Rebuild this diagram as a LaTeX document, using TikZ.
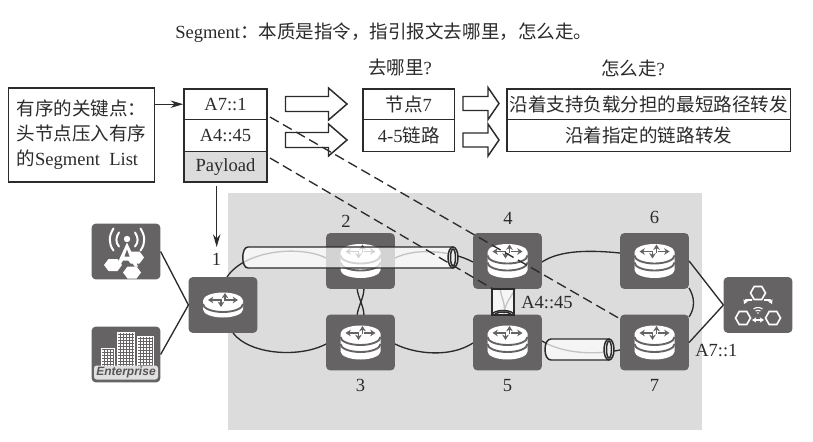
\documentclass[tikz,border=0pt]{standalone}
\usepackage{fontspec}
\setmainfont{Liberation Serif}
\newfontfamily\cjk{Noto Sans CJK SC}
\newfontfamily\brandfont{Liberation Sans}
\usetikzlibrary{arrows.meta,calc}
\newcommand{\widecolon}{\char"FF1A\relax}
\newcommand{\widecomma}{\char"FF0C\relax}
\definecolor{tile}{HTML}{666365}
\definecolor{ink}{HTML}{2B2B2B}
\definecolor{zone}{HTML}{DCDCDC}
\tikzset{
  label text/.style={font=\fontsize{13.9}{16}\selectfont,text=ink,inner sep=0pt},
  cell/.style={draw=ink,line width=1.1pt,inner sep=0pt,font=\fontsize{13.9}{16}\selectfont,text=ink},
  tile box/.style={fill=tile,rounded corners=3pt,minimum width=51.5pt,minimum height=41.8pt,inner sep=0pt},
  link/.style={draw=ink,line width=1pt},
  solid arrow/.style={draw=ink,line width=1pt,-{Stealth[length=9.5pt,width=5.5pt]}},
  marker path/.style={draw=ink,line width=1pt,dash pattern=on 7.5pt off 3.8pt},
  tube/.style={draw=ink,line width=1.1pt,fill=white,fill opacity=0.72},
  icon arrow/.style={draw=tile,line width=1.4pt,-{Stealth[length=4pt,width=5pt]}},
  hex line/.style={draw=white,line width=1.2pt,fill=none},
  pics/arrowset/.style={code={
    \draw[icon arrow] (-3,0) -- (-15,0);
    \draw[icon arrow] (3,0) -- (15,0);
    \draw[icon arrow] (2,1) -- (2,-7);
    \draw[icon arrow] (-2,-1) -- (-2,7);
  }},
  pics/stackrouter/.style={code={
    \fill[white] (-20,-9) arc[start angle=180,end angle=360,x radius=20,y radius=8]
      -- (20,9) arc[start angle=0,end angle=180,x radius=20,y radius=8] -- cycle;
    \draw[tile,line width=1.4pt] (-20,-5.5) arc[start angle=180,end angle=0,x radius=20,y radius=8];
    \draw[tile,line width=1.4pt] (-20,1.5) arc[start angle=180,end angle=0,x radius=20,y radius=8];
    \pic at (0,-9.5) {arrowset};
  }},
  pics/flatrouter/.style={code={
    \fill[white] (-20,-4.5) arc[start angle=180,end angle=360,x radius=20,y radius=8]
      -- (20,4.5) arc[start angle=0,end angle=180,x radius=20,y radius=8] -- cycle;
    \draw[tile,line width=1.4pt] (-20,-1) arc[start angle=180,end angle=0,x radius=20,y radius=8];
    \pic at (0,-5) {arrowset};
  }},
  pics/hexa/.style={code={
    \draw[hex line] (-7.5,0) -- (-3.8,-6.5) -- (3.8,-6.5) -- (7.5,0) -- (3.8,6.5) -- (-3.8,6.5) -- cycle;
  }},
  pics/hexsolid/.style={code={
    \fill[white] (-9,0) -- (-4.5,-6) -- (4.5,-6) -- (9,0) -- (4.5,6) -- (-4.5,6) -- cycle;
  }},
  pics/blockarrow/.style n args={3}{code={
    \draw[draw=ink,line width=1.1pt,fill=white,line join=miter]
      (0,-#3) -- (#2,-#3) -- (#2,-16) -- (#1,0) -- (#2,16) -- (#2,#3) -- (0,#3) -- cycle;
  }},
}
\begin{document}
\begin{tikzpicture}[x=0.75pt,y=-0.75pt]
\useasboundingbox (0,0) rectangle (813,442);
\fill[white] (0,0) rectangle (813,442);

% shaded network domain
\fill[zone] (228,193) rectangle (702,430);

% heading line and column captions
\node[label text,anchor=west] (title) at (175,33) {Segment{\cjk \widecolon 本质是指令\widecomma 指引报文去哪里\widecomma 怎么走。}};
\node[label text] (capwhere) at (400,67) {{\cjk 去哪里}?};
\node[label text] (caphow) at (633,68) {{\cjk 怎么走}?};

% ordered key points box
\node[cell,minimum width=109.5pt,minimum height=70.5pt,align=left,
      font=\fontsize{13.9}{18.7}\selectfont] (intro) at (81.5,135)
  {{\cjk 有序的关键点\widecolon}\\{\cjk 头节点压入有序}\\{\cjk 的}Segment\ \ List};

% segment list stack
\node[cell,minimum width=62.25pt,minimum height=22.9pt] (sa) at (225.5,104.2) {A7::1};
\node[cell,minimum width=62.25pt,minimum height=24pt] (sb) at (225.5,135.5) {A4::45};
\node[cell,fill=zone,minimum width=62.25pt,minimum height=22.9pt] (sc) at (225.5,166.7) {Payload};

% destination column
\node[cell,minimum width=68.6pt,minimum height=22.9pt] (wa) at (408.7,104.2) {{\cjk 节点}7};
\node[cell,minimum width=68.6pt,minimum height=24pt] (wb) at (408.7,135.5) {4-5{\cjk 链路}};

% forwarding behaviour column
\node[cell,minimum width=212.6pt,minimum height=22.9pt] (ha) at (648.7,104.2) {\cjk 沿着支持负载分担的最短路径转发};
\node[cell,minimum width=212.6pt,minimum height=24pt] (hb) at (648.7,135.5) {\cjk 沿着指定的链路转发};

% block arrows between the columns
\pic at (285.5,104) {blockarrow={61.5}{43}{7.5}};
\pic at (285.5,140) {blockarrow={61.5}{43}{7.5}};
\pic at (463,103.5) {blockarrow={36}{25}{7}};
\pic at (463,140) {blockarrow={36}{25}{7}};

% tile centres
\coordinate (c1) at (223,305);
\coordinate (c2) at (360.5,261);
\coordinate (c3) at (360.5,342.5);
\coordinate (c4) at (507.5,261);
\coordinate (c5) at (507.5,342.5);
\coordinate (c6) at (654.5,261);
\coordinate (c7) at (654.5,342.5);

% links underneath the tiles
\draw[link] (227,277) .. controls (245,250) and (300,245) .. (326,258);
\draw[link] (233,333) .. controls (250,355) and (300,358) .. (326,344);
\draw[link] (395,258) .. controls (415,248) and (450,250) .. (473,262);
\draw[link] (395,344) .. controls (415,354) and (450,358) .. (473,343);
\draw[link] (542,262) .. controls (560,250) and (590,250) .. (620,253);
\draw[link] (542,341) .. controls (560,352) and (590,356) .. (620,350);
\draw[link] (689,288) .. controls (695,298) and (695,308) .. (689,317);
\draw[link] (357,288) .. controls (358,298) and (364,306) .. (364,316);
\draw[link] (364,288) .. controls (364,298) and (358,306) .. (357,316);
\draw[link] (500,288) .. controls (501,298) and (506,302) .. (504,316);
\draw[link] (515,288) .. controls (512,298) and (504,302) .. (504,316);

\node[tile box] (tower) at (126,251.5) {};
\node[tile box] (ent) at (126,354.5) {};
\node[tile box] (r1) at (c1) {};
\node[tile box] (r2) at (c2) {};
\node[tile box] (r3) at (c3) {};
\node[tile box] (r4) at (c4) {};
\node[tile box] (r5) at (c5) {};
\node[tile box] (r6) at (c6) {};
\node[tile box] (r7) at (c7) {};
\node[tile box] (svc) at (758,305) {};

\pic at (r1) {flatrouter};
\pic at (r2) {stackrouter};
\pic at (r3) {stackrouter};
\pic at (r4) {stackrouter};
\pic at (r5) {stackrouter};
\pic at (r6) {stackrouter};
\pic at (r7) {stackrouter};

% radio tower glyph
\begin{scope}[shift={(tower.center)}]
  \pic at (-13,13.5) {hexsolid};
  \pic at (9,6) {hexsolid};
  \pic at (6,21) {hexsolid};
  \fill[white] (1,-12.5) circle (3.2);
  \fill[white] (1,-9) -- (-10,15) -- (-6.5,15) -- (-3,9) -- (5,9) -- (8.5,15) -- (12,15) -- cycle;
  \fill[tile] (1,-2) -- (-1.5,5) -- (3.5,5) -- cycle;
  \draw[white,line width=1.5pt,line cap=round] (-7,-19) .. controls (-10.5,-14) and (-10.5,-9) .. (-7,-5);
  \draw[white,line width=1.5pt,line cap=round] (-12.5,-23) .. controls (-17.5,-15) and (-17.5,-8) .. (-12.5,-1);
  \draw[white,line width=1.5pt,line cap=round] (9,-19) .. controls (12.5,-14) and (12.5,-9) .. (9,-5);
  \draw[white,line width=1.5pt,line cap=round] (14.5,-23) .. controls (19.5,-15) and (19.5,-8) .. (14.5,-1);
\end{scope}

% enterprise buildings glyph
\begin{scope}[shift={(ent.center)}]
  \fill[white] (-25,-7) rectangle (-11,13);
  \fill[white] (-9,-23) rectangle (9,13);
  \fill[white] (11,-19) rectangle (28,13);
  \foreach \yy in {-20,-17,...,12} {
    \draw[tile,line width=0.25pt] (-8,\yy) -- (8,\yy);
  }
  \foreach \xx in {-6,-3,...,7} {
    \draw[tile,line width=0.25pt] (\xx,-22) -- (\xx,12);
  }
  \foreach \yy in {-16,-13,...,12} {
    \draw[tile,line width=0.25pt] (12,\yy) -- (27,\yy);
  }
  \foreach \xx in {14,17,...,26} {
    \draw[tile,line width=0.25pt] (\xx,-18) -- (\xx,12);
  }
  \foreach \yy in {-5,-2,...,12} {
    \draw[tile,line width=0.25pt] (-24,\yy) -- (-12,\yy);
  }
  \foreach \xx in {-22,-19,...,-13} {
    \draw[tile,line width=0.25pt] (\xx,-6) -- (\xx,12);
  }
  \fill[white!88!black,rounded corners=2pt] (-32,11) rectangle (32,25);
  \node[inner sep=0pt,text=tile!85!black] (entname) at (0,18)
    {\brandfont\bfseries\itshape\fontsize{9}{9}\selectfont Enterprise};
\end{scope}

% service chain glyph
\begin{scope}[shift={(svc.center)}]
  \pic at (0,-12) {hexa};
  \pic at (-15,13) {hexa};
  \pic at (15,13) {hexa};
  \draw[white,line width=1.2pt,-{Stealth[length=3.2pt,width=4pt]}] (-6,-5) -- (-12,-5) -- (-14,-1);
  \draw[white,line width=1.2pt,-{Stealth[length=3.2pt,width=4pt]}] (6,-5) -- (12,-5) -- (14,-1);
  \draw[white,line width=1.2pt,{Stealth[length=3.2pt,width=4pt]}-{Stealth[length=3.2pt,width=4pt]}] (-6,15) -- (6,15);
  \draw[white,line width=0.8pt] (-4.5,4) .. controls (-2,2) and (2,2) .. (4.5,4);
  \draw[white,line width=0.8pt] (-2.5,6) .. controls (-1,5) and (1,5) .. (2.5,6);
  \fill[white] (0,8) circle (0.9);
\end{scope}

% access links and uplinks
\draw[link] (tower.east) -- (r1.west);
\draw[link] (ent.east) -- (r1.west);
\draw[link] (r6.east) -- (svc.west);
\draw[link] (r7.east) -- (svc.west);

% explicit tunnels
\path[tube] (248,247) -- (453,247) -- (453,268) -- (248,268)
  .. controls (241,268) and (241,247) .. (248,247) -- cycle;
\draw[draw=ink,line width=1.1pt,fill=zone!50] (453,257.5) ellipse [x radius=5,y radius=10.5];
\draw[draw=ink,line width=1.1pt] (453,257.5) ellipse [x radius=2.5,y radius=8.5];

\path[tube] (492,289) -- (514,289) -- (514,315) -- (492,315) -- cycle;
\draw[draw=ink,line width=1.1pt] (492,315) arc[start angle=180,end angle=360,x radius=11,y radius=4.5];
\draw[draw=ink,line width=1.1pt] (495,315) arc[start angle=180,end angle=360,x radius=8,y radius=3];

\path[tube] (551,339) -- (609,339) -- (609,360) -- (551,360)
  .. controls (543,360) and (543,339) .. (551,339) -- cycle;
\draw[draw=ink,line width=1.1pt,fill=zone!50] (609,349.5) ellipse [x radius=5,y radius=10.5];
\draw[draw=ink,line width=1.1pt] (609,349.5) ellipse [x radius=2.5,y radius=8.5];

% arrows on the stack
\draw[solid arrow] (intro.east |- sa.west) -- (sa.west);
\coordinate (drop) at (216.7,186);
\coordinate (droptip) at (216.7,247);
\draw[solid arrow] (drop) -- (droptip);

% dashed markers from list entries to their targets
\coordinate (fromA) at (270,117);
\coordinate (toA) at (622,320);
\coordinate (fromB) at (270,158);
\coordinate (toB) at (493,289);
\draw[marker path] (fromA) -- (toA);
\draw[marker path] (fromB) -- (toB);

% router numbers and address labels
\node[label text] (n1) at (216.5,259) {1};
\node[label text] (n2) at (346,221) {2};
\node[label text] (n3) at (360.5,385) {3};
\node[label text] (n4) at (508,218.5) {4};
\node[label text] (n5) at (507.5,386) {5};
\node[label text] (n6) at (654.5,217.5) {6};
\node[label text] (n7) at (654.5,385) {7};
\node[label text,anchor=west] (aa) at (521,303) {A4::45};
\node[label text,anchor=west] (ab) at (695,351) {A7::1};
\end{tikzpicture}
\end{document}
